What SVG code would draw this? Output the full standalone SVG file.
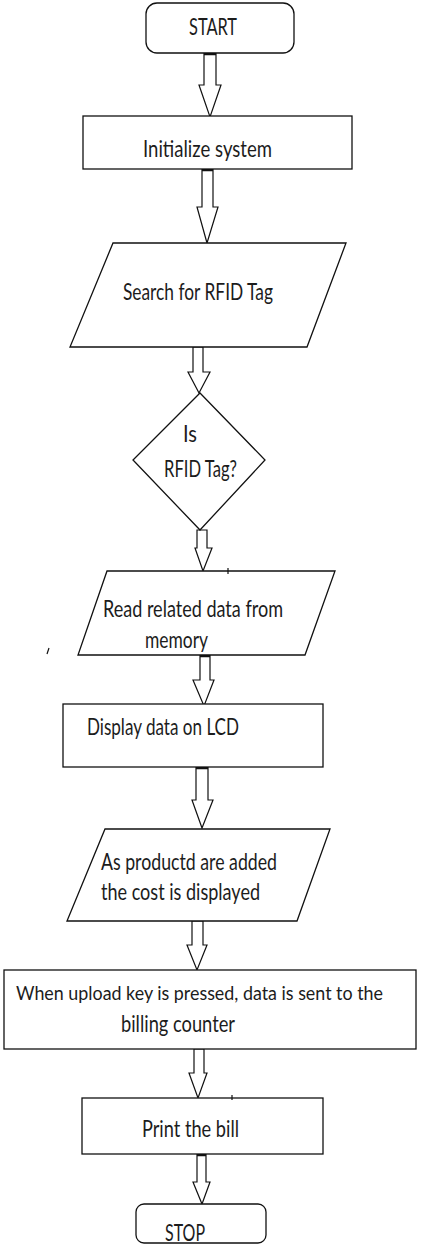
<svg xmlns="http://www.w3.org/2000/svg" width="430" height="1252" viewBox="0 0 430 1252">
<style>
.s{fill:#fff;stroke:#111;stroke-width:1.3}
.a{fill:#fff;stroke:#111;stroke-width:1.2;stroke-linejoin:miter}
.t{font-family:Lato,"Liberation Sans",sans-serif;font-size:22.5px;fill:#1c1c1c}
.n{font-size:18.5px}
.m{fill:none;stroke:#111;stroke-width:1.2}
.b{fill:none;stroke:#111;stroke-width:2.6}
</style>
<rect width="430" height="1252" fill="#fff"/>
<g id="connectors">
<polygon class="a" points="204,53 216,53 216,85 221,85 210,117 199,85 204,85"/>
<polygon class="a" points="202,169 213,169 213,207 218,207 207,243 197,207 202,207"/>
<polygon class="a" points="193,347 203,347 203,372 210,372 199,393 188,372 193,372"/>
<polygon class="a" points="197,530 207,530 207,548 212,548 203,571 195,548 197,548"/>
<polygon class="a" points="200,655 210,655 210,680 214,680 204,706 193,680 200,680"/>
<polygon class="a" points="196,767 208,767 208,800 213,800 202,828 192,800 196,800"/>
<polygon class="a" points="192,921 203,921 203,945 207,945 197,970 187,945 192,945"/>
<polygon class="a" points="194,1049 204,1049 204,1073 207,1073 198,1098 189,1073 194,1073"/>
<polygon class="a" points="197,1154 206,1154 206,1182 210,1182 202,1204 193,1182 197,1182"/>
<path class="b" d="M204,54H216M202,170H213M200,656H210M196,768H208M197,1155H206"/>
</g>
<g id="start">
<rect class="s" x="146" y="3" width="148" height="50" rx="11"/>
<text class="t" x="189" y="35" textLength="48" lengthAdjust="spacingAndGlyphs">START</text>
</g>
<g id="init">
<rect class="s" x="83" y="116" width="269" height="53"/>
<text class="t" x="143" y="157" textLength="129" lengthAdjust="spacingAndGlyphs">Initialize system</text>
</g>
<g id="search">
<polygon class="s" points="113,243 346,243 307,347 70,347"/>
<text class="t" x="123" y="300" textLength="150" lengthAdjust="spacingAndGlyphs">Search for RFID Tag</text>
</g>
<g id="decision">
<polygon class="s" points="200,393 265,460 200,530 133,460"/>
<text class="t" x="183" y="442" textLength="14" lengthAdjust="spacingAndGlyphs">Is</text>
<text class="t" x="164" y="477" textLength="73" lengthAdjust="spacingAndGlyphs">RFID Tag?</text>
</g>
<g id="read">
<polygon class="s" points="107,571 335,571 305,655 78,655"/>
<path class="m" d="M228,568V574M49,648L47,654"/>
<text class="t" x="103" y="617" textLength="180" lengthAdjust="spacingAndGlyphs">Read related data from</text>
<text class="t" x="145" y="648" textLength="63" lengthAdjust="spacingAndGlyphs">memory</text>
</g>
<g id="display">
<rect class="s" x="63" y="704" width="260" height="63"/>
<text class="t" x="87" y="735" textLength="152" lengthAdjust="spacingAndGlyphs">Display data on LCD</text>
</g>
<g id="products">
<polygon class="s" points="105,829 330,829 297,921 67,921"/>
<text class="t" x="101" y="870" textLength="176" lengthAdjust="spacingAndGlyphs">As productd are added</text>
<text class="t" x="101" y="900" textLength="159" lengthAdjust="spacingAndGlyphs">the cost is displayed</text>
</g>
<g id="upload">
<rect class="s" x="4" y="970" width="412" height="79"/>
<text class="t n" x="16" y="1000" textLength="367" lengthAdjust="spacingAndGlyphs">When upload key is pressed, data is sent to the</text>
<text class="t" x="121" y="1032" textLength="114" lengthAdjust="spacingAndGlyphs">billing counter</text>
</g>
<g id="print">
<rect class="s" x="82" y="1098" width="241" height="56"/>
<path class="m" d="M232,1095V1100"/>
<text class="t" x="142" y="1137" textLength="97" lengthAdjust="spacingAndGlyphs">Print the bill</text>
</g>
<g id="stop">
<rect class="s" x="136" y="1204" width="130" height="39" rx="8"/>
<text class="t" x="165" y="1241" textLength="40" lengthAdjust="spacingAndGlyphs">STOP</text>
</g>
</svg>
